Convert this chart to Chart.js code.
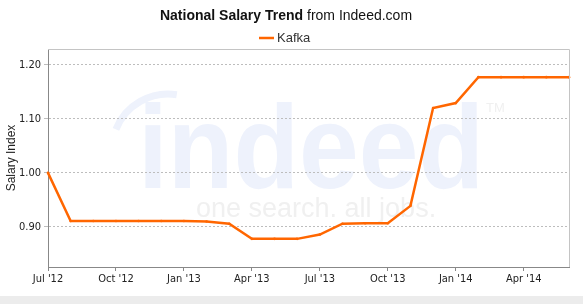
<!DOCTYPE html>
<html>
<head>
<meta charset="utf-8">
<script src="https://cdn.jsdelivr.net/npm/chart.js@4"></script>
<style>
  body { margin: 0; background: #ececec; }
  #wrap { width: 583px; height: 296px; background: #fff; position: relative; }
</style>
</head>
<body>
<div id="wrap"><canvas id="salary" width="583" height="296"></canvas></div>
<script>
// monthly points, Jul 2012 .. Jun 2014
const months = ["Jul '12","Aug '12","Sep '12","Oct '12","Nov '12","Dec '12",
                "Jan '13","Feb '13","Mar '13","Apr '13","May '13","Jun '13",
                "Jul '13","Aug '13","Sep '13","Oct '13","Nov '13","Dec '13",
                "Jan '14","Feb '14","Mar '14","Apr '14","May '14","Jun '14"];
const kafka = [1.00, 0.911, 0.911, 0.911, 0.911, 0.911,
               0.911, 0.910, 0.906, 0.878, 0.878, 0.878,
               0.886, 0.906, 0.907, 0.907, 0.939, 1.120,
               1.129, 1.177, 1.177, 1.177, 1.177, 1.177];
const yTicks = [0.90, 1.00, 1.10, 1.20];

const ORANGE = '#ff6600';

// title, legend, watermark and frame
const decor = {
  id: 'decor',
  beforeDraw(chart) {
    const ctx = chart.ctx;
    ctx.save();
    // watermark
    ctx.strokeStyle = '#eef2fc';
    ctx.lineWidth = 7;
    ctx.beginPath();
    ctx.arc(168, 150, 56, Math.PI * 1.12, Math.PI * 1.55);
    ctx.stroke();
    ctx.fillStyle = '#eef2fc';
    ctx.font = 'bold 118px "Liberation Sans", Arial, sans-serif';
    ctx.textBaseline = 'alphabetic';
    ctx.textAlign = 'left';
    ctx.fillText('indeed', 138, 188, 346);
    ctx.fillStyle = '#f0f0f0';
    ctx.font = '27px "Liberation Sans", Arial, sans-serif';
    ctx.fillText('one search. all jobs.', 196, 217, 288);
    ctx.font = '13px "Liberation Sans", Arial, sans-serif';
    ctx.fillText('TM', 486, 112);
    ctx.restore();
  },
  afterDraw(chart) {
    const ctx = chart.ctx;
    const a = chart.chartArea;
    ctx.save();
    // frame top / right
    ctx.strokeStyle = '#c4c4c4';
    ctx.lineWidth = 1;
    ctx.beginPath();
    ctx.moveTo(a.left, a.top + 0.5);
    ctx.lineTo(a.right + 0.5, a.top + 0.5);
    ctx.lineTo(a.right + 0.5, a.bottom);
    ctx.stroke();
    // title
    ctx.fillStyle = '#111';
    ctx.textBaseline = 'middle';
    ctx.textAlign = 'left';
    const bold = 'bold 14px "Liberation Sans", Arial, sans-serif';
    const norm = '14px "Liberation Sans", Arial, sans-serif';
    ctx.font = bold;
    const t1 = 'National Salary Trend';
    const w1 = ctx.measureText(t1).width;
    ctx.font = norm;
    const t2 = ' from Indeed.com';
    const w2 = ctx.measureText(t2).width;
    let x = 286 - (w1 + w2) / 2;
    ctx.font = bold;
    ctx.fillText(t1, x, 16);
    ctx.font = norm;
    ctx.fillText(t2, x + w1, 16);
    // legend
    ctx.strokeStyle = ORANGE;
    ctx.lineWidth = 2.5;
    ctx.beginPath();
    ctx.moveTo(259, 38);
    ctx.lineTo(274, 38);
    ctx.stroke();
    ctx.fillStyle = '#333';
    ctx.font = '13px "Liberation Sans", Arial, sans-serif';
    ctx.fillText(chart.data.datasets[0].label, 277, 38);
    ctx.restore();
  }
};

new Chart(document.getElementById('salary'), {
  type: 'line',
  data: {
    labels: months,
    datasets: [{
      label: 'Kafka',
      data: kafka,
      borderColor: ORANGE,
      backgroundColor: ORANGE,
      borderWidth: 2.5,
      pointRadius: 1.3,
      pointBorderWidth: 0,
      tension: 0,
      fill: false
    }]
  },
  options: {
    responsive: false,
    animation: false,
    layout: { padding: { top: 49, right: 14, left: 0, bottom: 0 } },
    plugins: {
      legend: { display: false },
      title: { display: false },
      tooltip: { enabled: false }
    },
    scales: {
      x: {
        type: 'category',
        offset: false,
        afterFit(scale) { scale.height = 29; },
        grid: {
          drawOnChartArea: false,
          tickLength: 4,
          color: ctx => (ctx.index % 3 === 0 ? '#888' : 'rgba(0,0,0,0)')
        },
        border: { color: '#888', width: 1 },
        ticks: {
          autoSkip: false,
          maxRotation: 0,
          padding: 2,
          color: '#222',
          font: { family: '"DejaVu Sans Condensed", "DejaVu Sans", sans-serif', size: 11 },
          callback: function(v, i) { return i % 3 === 0 ? months[i] : ''; }
        }
      },
      y: {
        min: 0.826,
        max: 1.229,
        afterFit(scale) { scale.width = 48; },
        afterBuildTicks(scale) { scale.ticks = yTicks.map(v => ({ value: v })); },
        grid: { color: '#bdbdbd', tickLength: 4 },
        border: { color: '#888', width: 1, dash: [2, 2] },
        ticks: {
          padding: 3,
          color: '#222',
          font: { family: '"DejaVu Sans Condensed", "DejaVu Sans", sans-serif', size: 11 },
          callback: v => v.toFixed(2)
        },
        title: {
          display: true,
          text: 'Salary Index',
          color: '#222',
          padding: { top: 4, bottom: 0 },
          font: { family: '"Liberation Sans", Arial, sans-serif', size: 12 }
        }
      }
    }
  },
  plugins: [decor]
});
</script>
</body>
</html>
